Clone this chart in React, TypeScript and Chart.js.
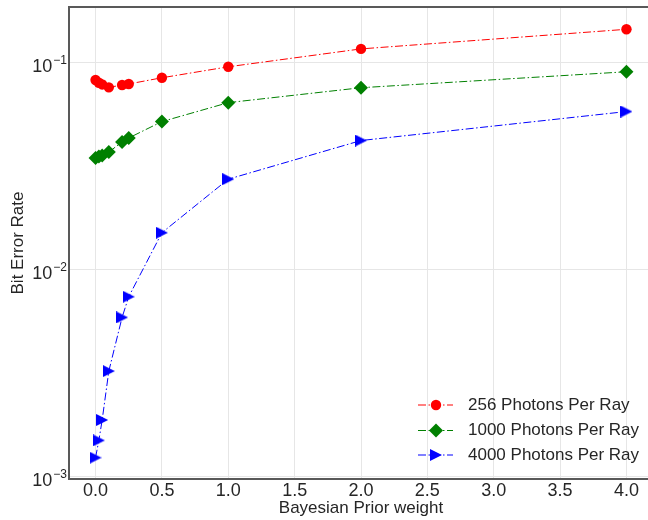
import React, { useEffect, useRef } from 'react';
import { Chart, registerables } from 'chart.js';

Chart.register(...registerables);

// ---- data ----
const priorWeights = [0, 0.025, 0.05, 0.1, 0.2, 0.25, 0.5, 1, 2, 4];
const ber256 = [0.0819, 0.0795, 0.078, 0.0755, 0.0775, 0.0784, 0.084, 0.0949, 0.1158, 0.144];
const ber1000 = [0.0344, 0.035, 0.0354, 0.0368, 0.0411, 0.043, 0.0516, 0.0637, 0.0752, 0.0898];
const ber4000 = [0.00123, 0.00149, 0.00187, 0.00322, 0.00585, 0.00736, 0.015, 0.0272, 0.0418, 0.0577];
const seriesLabels = ['256 Photons Per Ray', '1000 Photons Per Ray', '4000 Photons Per Ray'];
const xTicks = [0, 0.5, 1, 1.5, 2, 2.5, 3, 3.5, 4];
const xTickLabels = ['0.0', '0.5', '1.0', '1.5', '2.0', '2.5', '3.0', '3.5', '4.0'];
const yTicks = [0.001, 0.01, 0.1];
const yTickBase = '10';
const yTickExponents = ['\u22123', '\u22122', '\u22121'];
const xRange = [-0.2, 4.2];
const yRange = [0.00097, 0.1845];
const xTitle = 'Bayesian Prior weight';
const yTitle = 'Bit Error Rate';

const FONT = "'Liberation Sans', Arial, Helvetica, sans-serif";
const TEXT = '#262626';
const DASH = [8, 2.5, 1.5, 2.5];

function makeTriangle(color: string, size: number) {
  const c = document.createElement('canvas');
  c.width = size;
  c.height = size;
  const g = c.getContext('2d')!;
  g.fillStyle = color;
  g.beginPath();
  g.moveTo(0, 0);
  g.lineTo(size, size / 2);
  g.lineTo(0, size);
  g.closePath();
  g.fill();
  return c;
}

const framePlugin = {
  id: 'frame',
  afterDraw(chart: any) {
    const { ctx, chartArea } = chart;
    ctx.save();
    ctx.strokeStyle = '#595959';
    ctx.lineWidth = 2;
    ctx.setLineDash([]);
    ctx.strokeRect(chartArea.left, chartArea.top, chartArea.right - chartArea.left, chartArea.bottom - chartArea.top);
    ctx.restore();
  },
};

// y tick labels drawn as "10" with a raised exponent, like mathtext
const logLabelPlugin = {
  id: 'logLabels',
  afterDraw(chart: any) {
    const { ctx } = chart;
    const scale = chart.scales.y;
    const right = scale.right - 2;
    ctx.save();
    ctx.fillStyle = TEXT;
    ctx.textBaseline = 'alphabetic';
    yTicks.forEach((v, i) => {
      const y = scale.getPixelForValue(v);
      ctx.font = `12px ${FONT}`;
      ctx.textAlign = 'right';
      const expW = ctx.measureText(yTickExponents[i]).width;
      ctx.fillText(yTickExponents[i], right, y + 1.8);
      ctx.font = `18px ${FONT}`;
      ctx.fillText(yTickBase, right - expW - 1, y + 9.8);
    });
    ctx.restore();
  },
};

const legendPlugin = {
  id: 'customLegend',
  afterDraw(chart: any) {
    const { ctx } = chart;
    const rows = [405, 430.5, 455];
    const lineX0 = 418;
    const lineX1 = 453;
    const markX = 436;
    const textX = 468;
    ctx.save();
    chart.data.datasets.forEach((ds: any, i: number) => {
      const y = rows[i];
      ctx.strokeStyle = ds.borderColor;
      ctx.lineWidth = 1;
      ctx.setLineDash(DASH);
      ctx.beginPath();
      ctx.moveTo(lineX0, y);
      ctx.lineTo(lineX1, y);
      ctx.stroke();
      ctx.setLineDash([]);
      ctx.fillStyle = ds.pointBackgroundColor;
      ctx.beginPath();
      if (i === 0) {
        ctx.arc(markX, y, 5.2, 0, Math.PI * 2);
        ctx.fill();
      } else if (i === 1) {
        ctx.moveTo(markX - 7, y);
        ctx.lineTo(markX, y - 7);
        ctx.lineTo(markX + 7, y);
        ctx.lineTo(markX, y + 7);
        ctx.closePath();
        ctx.fill();
      } else {
        ctx.moveTo(markX - 6, y - 6);
        ctx.lineTo(markX + 6, y);
        ctx.lineTo(markX - 6, y + 6);
        ctx.closePath();
        ctx.fill();
      }
      ctx.fillStyle = TEXT;
      ctx.font = `17px ${FONT}`;
      ctx.textAlign = 'left';
      ctx.textBaseline = 'middle';
      ctx.fillText(ds.label, textX, y);
    });
    ctx.restore();
  },
};

export default function App() {
  const ref = useRef<HTMLCanvasElement | null>(null);

  useEffect(() => {
    if (!ref.current) return;
    Chart.defaults.font.family = FONT;
    const tri = makeTriangle('#0000ff', 12);
    const mk = (ys: number[]) => priorWeights.map((x, i) => ({ x, y: ys[i] }));
    const chart = new Chart(ref.current, {
      type: 'line',
      data: {
        datasets: [
          {
            label: seriesLabels[0],
            data: mk(ber256),
            borderColor: '#ff0000',
            borderWidth: 1,
            borderDash: DASH,
            pointStyle: 'circle',
            pointRadius: 5.2,
            pointHoverRadius: 5.2,
            pointBackgroundColor: '#ff0000',
            pointBorderWidth: 0,
            fill: false,
            tension: 0,
          },
          {
            label: seriesLabels[1],
            data: mk(ber1000),
            borderColor: '#008000',
            borderWidth: 1,
            borderDash: DASH,
            pointStyle: 'rectRot',
            pointRadius: 7,
            pointHoverRadius: 7,
            pointBackgroundColor: '#008000',
            pointBorderWidth: 0,
            fill: false,
            tension: 0,
          },
          {
            label: seriesLabels[2],
            data: mk(ber4000),
            borderColor: '#0000ff',
            borderWidth: 1,
            borderDash: DASH,
            pointStyle: tri as any,
            pointRadius: 6,
            pointHoverRadius: 6,
            pointBackgroundColor: '#0000ff',
            pointBorderWidth: 0,
            fill: false,
            tension: 0,
          },
        ] as any,
      },
      options: {
        animation: false,
        responsive: false,
        maintainAspectRatio: false,
        layout: { padding: { top: 5, right: 3, left: 0, bottom: 0 } },
        plugins: {
          legend: { display: false },
          tooltip: { enabled: false },
        },
        scales: {
          x: {
            type: 'linear',
            min: xRange[0],
            max: xRange[1],
            afterBuildTicks: (s: any) => {
              s.ticks = xTicks.map((v) => ({ value: v }));
            },
            afterFit: (s: any) => {
              s.height = 41;
              s.paddingLeft = 0;
              s.paddingRight = 0;
            },
            grid: { color: '#e6e6e6', lineWidth: 1, drawTicks: false },
            border: { display: false },
            ticks: {
              padding: 1,
              autoSkip: false,
              maxRotation: 0,
              color: TEXT,
              font: { size: 18 },
              callback: (v: any) => {
                const i = xTicks.findIndex((t) => Math.abs(t - Number(v)) < 1e-9);
                return i >= 0 ? xTickLabels[i] : '';
              },
            },
            title: {
              display: true,
              text: xTitle,
              color: TEXT,
              font: { size: 17 },
              padding: { top: 0, bottom: 1 },
            },
          },
          y: {
            type: 'logarithmic',
            min: yRange[0],
            max: yRange[1],
            afterBuildTicks: (s: any) => {
              s.ticks = yTicks.map((v) => ({ value: v }));
            },
            afterFit: (s: any) => {
              s.width = 69;
              s.paddingTop = 0;
              s.paddingBottom = 0;
            },
            grid: { color: '#e6e6e6', lineWidth: 1, drawTicks: false },
            border: { display: false },
            ticks: {
              padding: 2,
              autoSkip: false,
              color: TEXT,
              font: { size: 18 },
              callback: () => '',
            },
            title: {
              display: true,
              text: yTitle,
              color: TEXT,
              font: { size: 17 },
              padding: { top: 8, bottom: 0 },
            },
          },
        },
      } as any,
      plugins: [framePlugin, logLabelPlugin, legendPlugin],
    });
    return () => chart.destroy();
  }, []);

  return (
    <div
      style={{
        position: 'fixed',
        left: 0,
        top: 0,
        width: 648,
        height: 520,
        overflow: 'hidden',
        background: '#ffffff',
      }}
    >
      <canvas ref={ref} width={660} height={520} style={{ display: 'block', width: 660, height: 520 }} />
    </div>
  );
}
